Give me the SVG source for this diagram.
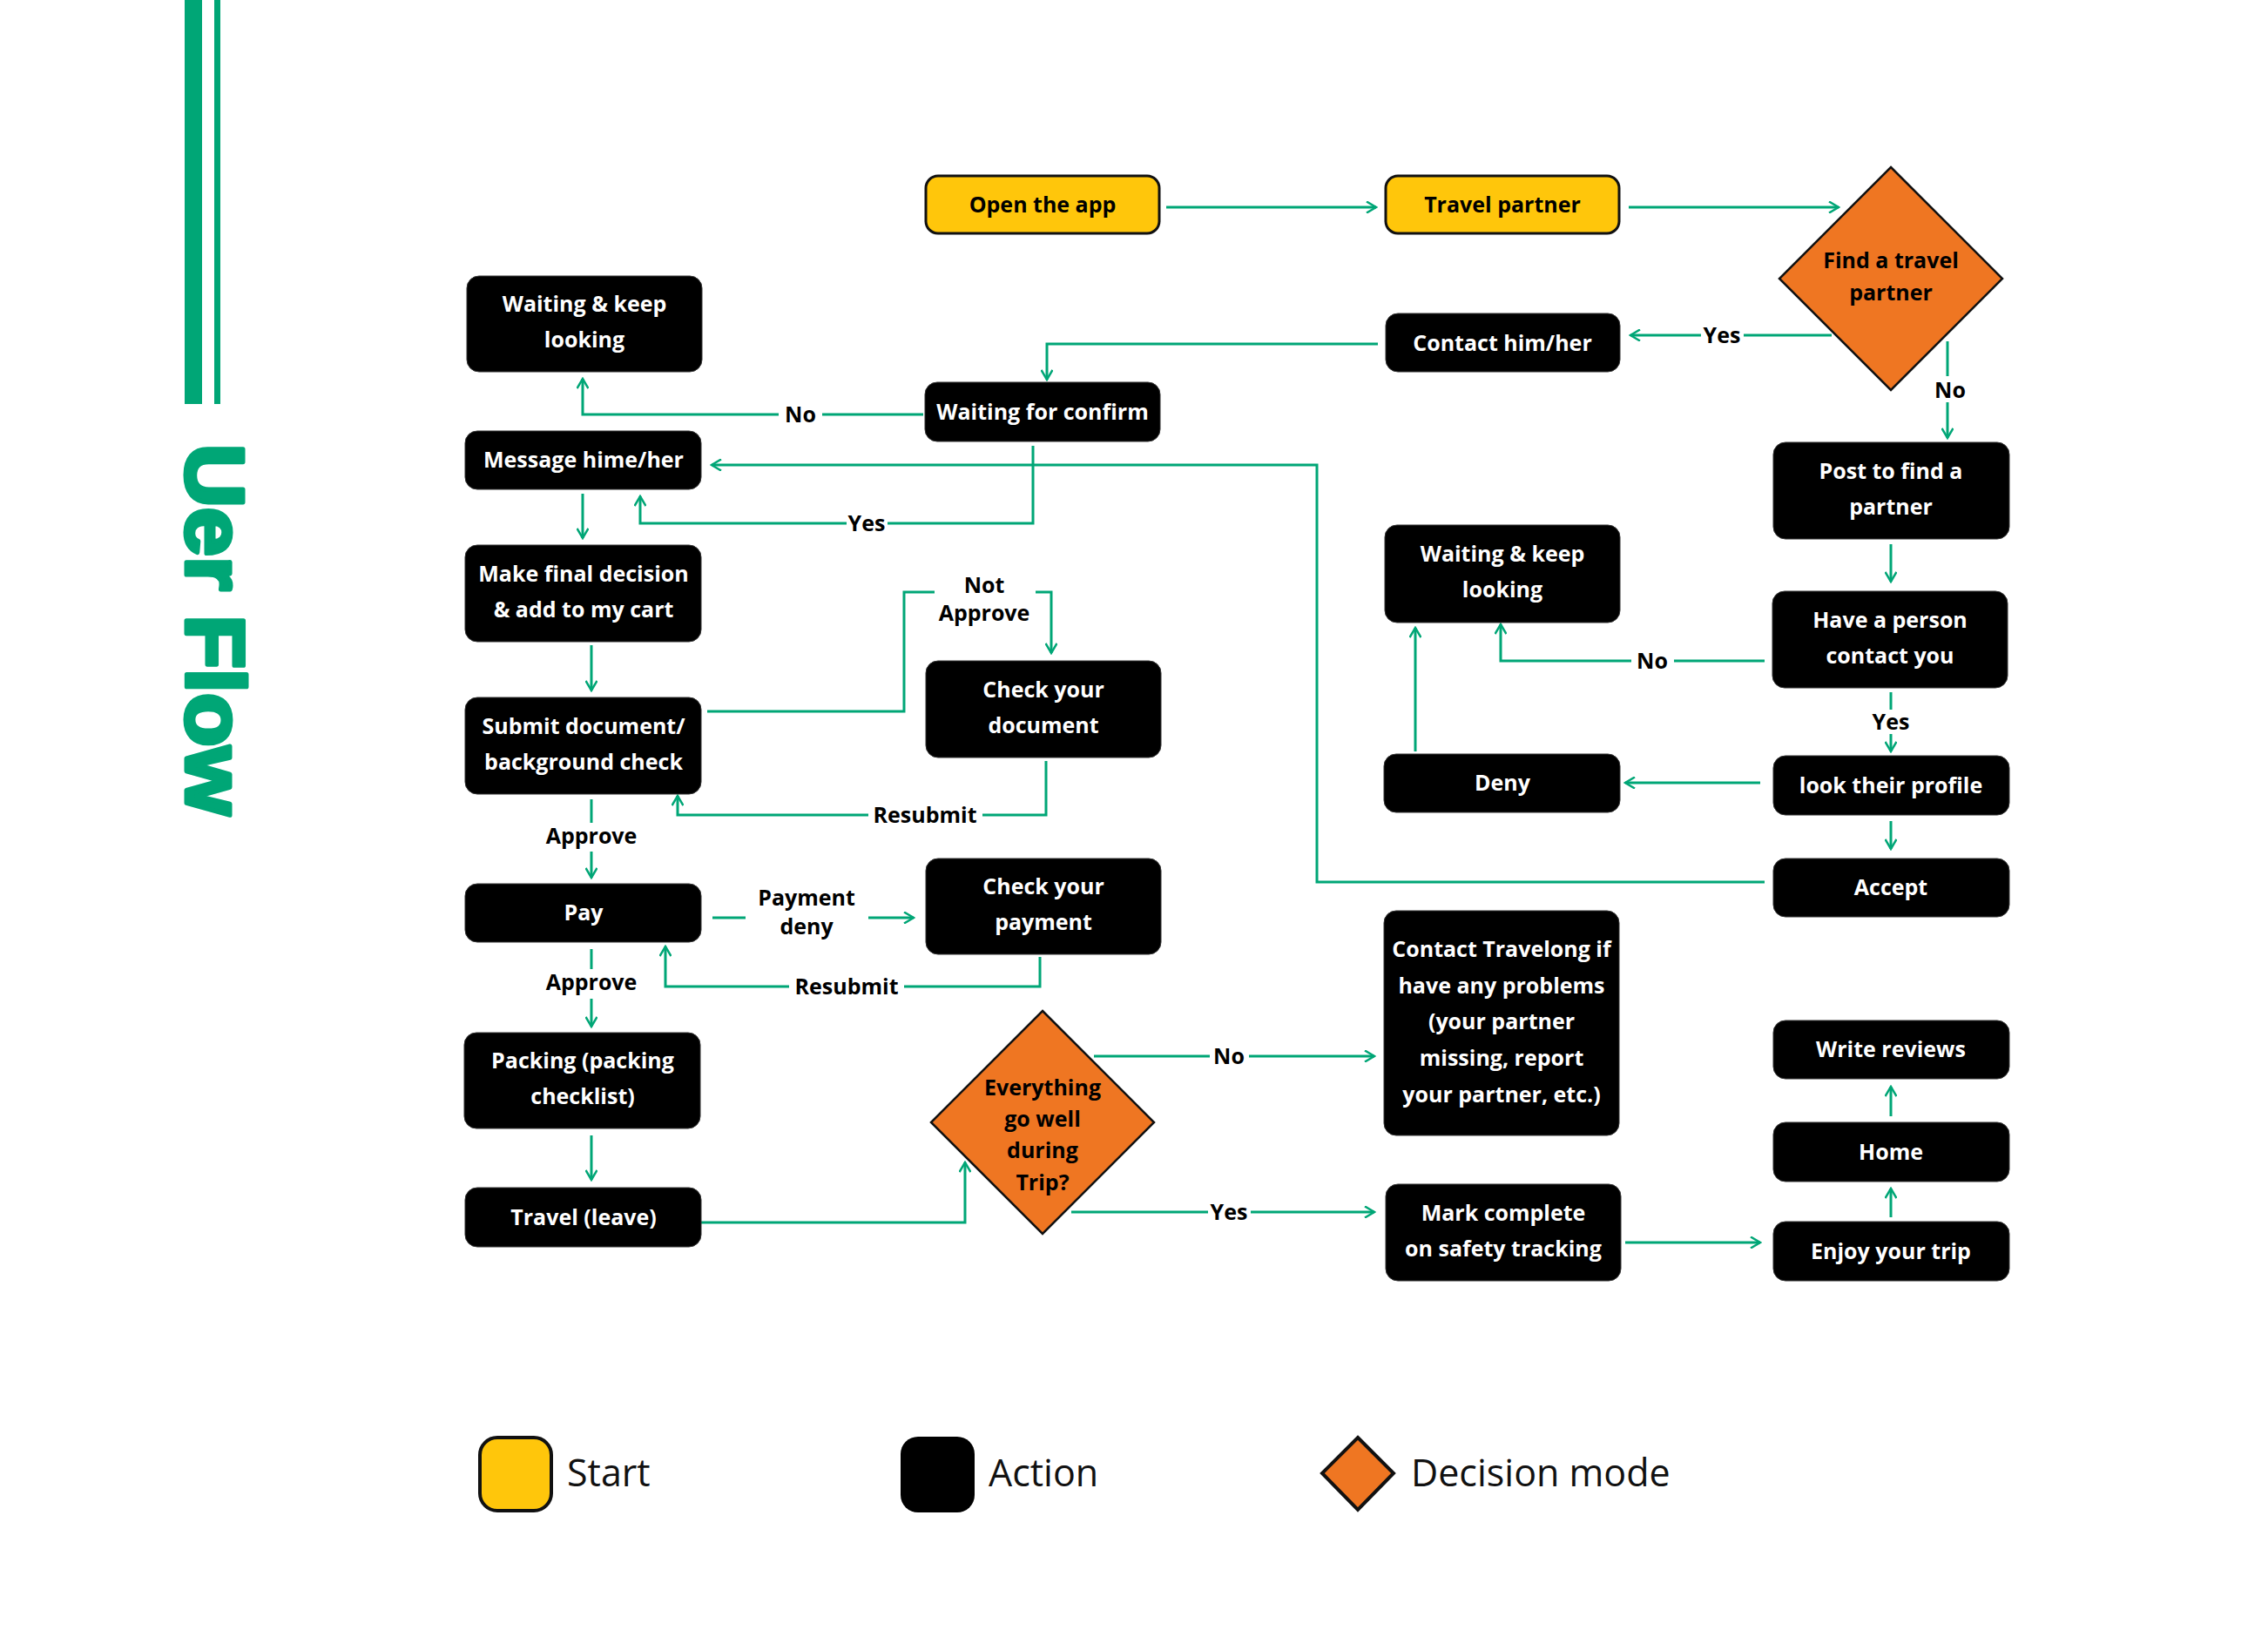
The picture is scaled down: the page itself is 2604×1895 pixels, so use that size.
<svg xmlns="http://www.w3.org/2000/svg" width="2604" height="1895" viewBox="0 0 2604 1895">
<style>
.n{fill:#000;stroke:#333;stroke-width:1}
.y{fill:#FFC60B;stroke:#111;stroke-width:3}
.d{fill:#EF7622;stroke:#111;stroke-width:2.5}
.t{font-family:"Open Sans","Liberation Sans",sans-serif;font-weight:700;font-size:25px;text-anchor:middle;fill:#fff}
.tk{font-family:"Open Sans","Liberation Sans",sans-serif;font-weight:700;font-size:25px;text-anchor:middle;fill:#000}
.c{fill:none;stroke:#00A676;stroke-width:3}
.lg{font-family:"Open Sans","Liberation Sans",sans-serif;font-size:43px;fill:#111}
</style>
<defs>
<marker id="a" markerWidth="14" markerHeight="14" refX="12" refY="7" orient="auto" markerUnits="userSpaceOnUse" viewBox="0 0 14 14">
<path d="M1,0.5 L12,7 L1,13.5" fill="none" stroke="#00A676" stroke-width="2.5"/>
</marker>
</defs>
<rect width="2604" height="1895" fill="#fff"/>
<g id="title">
<rect x="212" y="0" width="20" height="464" fill="#00A676"/>
<rect x="246" y="0" width="7" height="464" fill="#00A676"/>
<text transform="translate(214,510) rotate(90)" font-family="Liberation Sans, Arial, sans-serif" font-weight="900" font-size="94" fill="#00A676" stroke="#00A676" stroke-width="5" stroke-linejoin="round" textLength="426" lengthAdjust="spacingAndGlyphs">Uer Flow</text>
</g>
<g id="connectors">
<path class="c" d="M1339,238 H1580" marker-end="url(#a)"/>
<path class="c" d="M1870,238 H2111" marker-end="url(#a)"/>
<path class="c" d="M2103,385 H2002"/>
<path class="c" d="M1953,385 H1872" marker-end="url(#a)"/>
<path class="c" d="M1582,395 H1202 V436" marker-end="url(#a)"/>
<path class="c" d="M1060,476 H944"/>
<path class="c" d="M894,476 H669 V435" marker-end="url(#a)"/>
<path class="c" d="M1186,512 V601 H1019"/>
<path class="c" d="M972,601 H735 V570" marker-end="url(#a)"/>
<path class="c" d="M2026,1013 H1512 V534 H817" marker-end="url(#a)"/>
<path class="c" d="M669,567 V618" marker-end="url(#a)"/>
<path class="c" d="M679,741 V793" marker-end="url(#a)"/>
<path class="c" d="M812,817 H1038 V680 H1073"/>
<path class="c" d="M1189,680 H1207 V750" marker-end="url(#a)"/>
<path class="c" d="M1201,874 V936 H1128"/>
<path class="c" d="M997,936 H778 V914" marker-end="url(#a)"/>
<path class="c" d="M679,918 V945"/>
<path class="c" d="M679,978 V1008" marker-end="url(#a)"/>
<path class="c" d="M818,1054 H856"/>
<path class="c" d="M997,1054 H1049" marker-end="url(#a)"/>
<path class="c" d="M1194,1099 V1133 H1038"/>
<path class="c" d="M906,1133 H764 V1087" marker-end="url(#a)"/>
<path class="c" d="M679,1090 V1113"/>
<path class="c" d="M679,1147 V1179" marker-end="url(#a)"/>
<path class="c" d="M679,1304 V1355" marker-end="url(#a)"/>
<path class="c" d="M805,1404 H1108 V1335" marker-end="url(#a)"/>
<path class="c" d="M1256,1213 H1389"/>
<path class="c" d="M1434,1213 H1578" marker-end="url(#a)"/>
<path class="c" d="M1230,1392 H1387"/>
<path class="c" d="M1436,1392 H1578" marker-end="url(#a)"/>
<path class="c" d="M1866,1427 H2021" marker-end="url(#a)"/>
<path class="c" d="M2171,1398 V1365" marker-end="url(#a)"/>
<path class="c" d="M2171,1282 V1248" marker-end="url(#a)"/>
<path class="c" d="M2236,392 V432"/>
<path class="c" d="M2236,462 V503" marker-end="url(#a)"/>
<path class="c" d="M2171,625 V668" marker-end="url(#a)"/>
<path class="c" d="M2171,795 V815"/>
<path class="c" d="M2171,843 V863" marker-end="url(#a)"/>
<path class="c" d="M2026,759 H1922"/>
<path class="c" d="M1873,759 H1723 V717" marker-end="url(#a)"/>
<path class="c" d="M2021,899 H1866" marker-end="url(#a)"/>
<path class="c" d="M1625,863 V721" marker-end="url(#a)"/>
<path class="c" d="M2171,943 V975" marker-end="url(#a)"/>
</g>
<g id="labels">
<text class="tk" x="1977" y="394">Yes</text>
<text class="tk" x="919" y="485">No</text>
<text class="tk" x="995" y="610">Yes</text>
<text class="tk" x="2239" y="457">No</text>
<text class="tk" x="1130" y="681">Not</text>
<text class="tk" x="1130" y="713">Approve</text>
<text class="tk" x="1062" y="945">Resubmit</text>
<text class="tk" x="679" y="969">Approve</text>
<text class="tk" x="926" y="1040">Payment</text>
<text class="tk" x="926" y="1073">deny</text>
<text class="tk" x="972" y="1142">Resubmit</text>
<text class="tk" x="679" y="1137">Approve</text>
<text class="tk" x="1411" y="1222">No</text>
<text class="tk" x="1411" y="1401">Yes</text>
<text class="tk" x="2171" y="838">Yes</text>
<text class="tk" x="1897" y="768">No</text>
</g>
<g id="open-app"><rect class="y" x="1063" y="202" width="268" height="66" rx="14"/><text class="tk" x="1197" y="244">Open the app</text></g>
<g id="travel-partner"><rect class="y" x="1591" y="202" width="268" height="66" rx="14"/><text class="tk" x="1725" y="244">Travel partner</text></g>
<g id="find-partner"><polygon class="d" points="2171,192 2299,320 2171,448 2043,320"/><text class="tk" x="2171" y="308">Find a travel</text><text class="tk" x="2171" y="345">partner</text></g>
<g id="contact"><rect class="n" x="1591" y="360" width="269" height="67" rx="14"/><text class="t" x="1725" y="403">Contact him/her</text></g>
<g id="waiting-keep-left"><rect class="n" x="536" y="317" width="270" height="110" rx="14"/><text class="t" x="671" y="358">Waiting &amp; keep</text><text class="t" x="671" y="399">looking</text></g>
<g id="waiting-confirm"><rect class="n" x="1062" y="439" width="270" height="68" rx="14"/><text class="t" x="1197" y="482">Waiting for confirm</text></g>
<g id="message"><rect class="n" x="534" y="495" width="271" height="67" rx="14"/><text class="t" x="670" y="537">Message hime/her</text></g>
<g id="make-decision"><rect class="n" x="534" y="626" width="271" height="111" rx="14"/><text class="t" x="670" y="668">Make final decision</text><text class="t" x="670" y="709">&amp; add to my cart</text></g>
<g id="submit"><rect class="n" x="534" y="801" width="271" height="111" rx="14"/><text class="t" x="670" y="843">Submit document/</text><text class="t" x="670" y="884">background check</text></g>
<g id="check-document"><rect class="n" x="1063" y="759" width="270" height="111" rx="14"/><text class="t" x="1198" y="801">Check your</text><text class="t" x="1198" y="842">document</text></g>
<g id="pay"><rect class="n" x="534" y="1015" width="271" height="67" rx="14"/><text class="t" x="670" y="1057">Pay</text></g>
<g id="check-payment"><rect class="n" x="1063" y="986" width="270" height="110" rx="14"/><text class="t" x="1198" y="1027">Check your</text><text class="t" x="1198" y="1068">payment</text></g>
<g id="packing"><rect class="n" x="533" y="1186" width="271" height="110" rx="14"/><text class="t" x="669" y="1227">Packing (packing</text><text class="t" x="669" y="1268">checklist)</text></g>
<g id="travel-leave"><rect class="n" x="534" y="1364" width="271" height="68" rx="14"/><text class="t" x="670" y="1407">Travel (leave)</text></g>
<g id="everything"><polygon class="d" points="1197,1161 1325,1289 1197,1417 1069,1289"/><text class="tk" x="1197" y="1258">Everything</text><text class="tk" x="1197" y="1294">go well</text><text class="tk" x="1197" y="1330">during</text><text class="tk" x="1197" y="1367">Trip?</text></g>
<g id="post"><rect class="n" x="2036" y="508" width="271" height="111" rx="14"/><text class="t" x="2171" y="550">Post to find a</text><text class="t" x="2171" y="591">partner</text></g>
<g id="waiting-keep-right"><rect class="n" x="1590" y="603" width="270" height="112" rx="14"/><text class="t" x="1725" y="645">Waiting &amp; keep</text><text class="t" x="1725" y="686">looking</text></g>
<g id="have-person"><rect class="n" x="2035" y="679" width="270" height="111" rx="14"/><text class="t" x="2170" y="721">Have a person</text><text class="t" x="2170" y="762">contact you</text></g>
<g id="deny"><rect class="n" x="1589" y="866" width="271" height="67" rx="14"/><text class="t" x="1725" y="908">Deny</text></g>
<g id="look-profile"><rect class="n" x="2036" y="868" width="271" height="68" rx="14"/><text class="t" x="2171" y="911">look their profile</text></g>
<g id="accept"><rect class="n" x="2036" y="986" width="271" height="67" rx="14"/><text class="t" x="2171" y="1028">Accept</text></g>
<g id="contact-travelong"><rect class="n" x="1589" y="1046" width="270" height="258" rx="14"/><text class="t" x="1724" y="1099">Contact Travelong if</text><text class="t" x="1724" y="1141">have any problems</text><text class="t" x="1724" y="1182">(your partner</text><text class="t" x="1724" y="1224">missing, report</text><text class="t" x="1724" y="1266">your partner, etc.)</text></g>
<g id="write-reviews"><rect class="n" x="2036" y="1172" width="271" height="67" rx="14"/><text class="t" x="2171" y="1214">Write reviews</text></g>
<g id="home"><rect class="n" x="2036" y="1289" width="271" height="68" rx="14"/><text class="t" x="2171" y="1332">Home</text></g>
<g id="enjoy"><rect class="n" x="2036" y="1403" width="271" height="68" rx="14"/><text class="t" x="2171" y="1446">Enjoy your trip</text></g>
<g id="mark-complete"><rect class="n" x="1591" y="1360" width="270" height="111" rx="14"/><text class="t" x="1726" y="1402">Mark complete</text><text class="t" x="1726" y="1443">on safety tracking</text></g>
<g id="legend">
<rect x="551" y="1651" width="82" height="84" rx="20" fill="#FFC60B" stroke="#111" stroke-width="4"/>
<text class="lg" x="651" y="1707">Start</text>
<rect x="1034" y="1650" width="85" height="87" rx="20" fill="#000"/>
<text class="lg" x="1135" y="1707">Action</text>
<polygon points="1559,1651 1600,1692 1559,1734 1518,1692" fill="#EF7622" stroke="#111" stroke-width="4"/>
<text class="lg" x="1620" y="1707">Decision mode</text>
</g>
</svg>
